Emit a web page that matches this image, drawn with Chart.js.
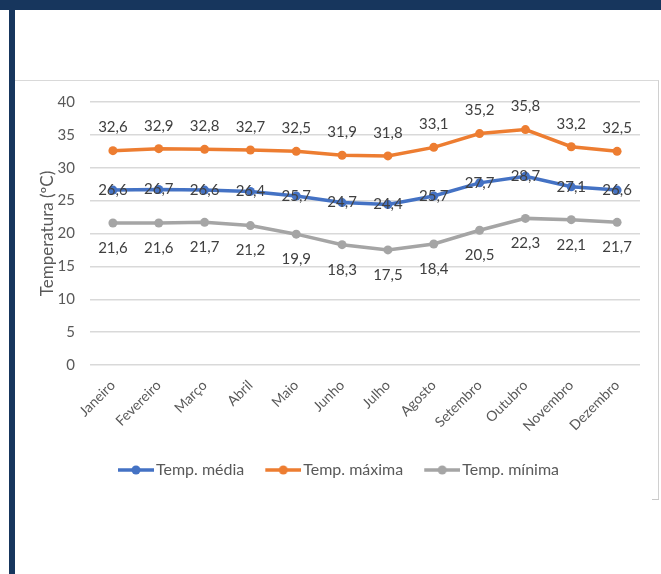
<!DOCTYPE html>
<html>
<head>
<meta charset="utf-8">
<script src="https://cdn.jsdelivr.net/npm/chart.js@4/dist/chart.umd.min.js"></script>
<style>
    body { margin: 0; background: #fff; width: 661px; height: 574px; overflow: hidden; position: relative; }
    #topBar { position: absolute; left: 0; top: 0; width: 661px; height: 10px; background: #17365d; }
    #leftBar { position: absolute; left: 9px; top: 10px; width: 6px; height: 564px; background: #17365d; }
    #frame {
        position: absolute; left: 15px; top: 80px; width: 643px; height: 419px;
        border-top: 1px solid #d9d9d9; border-right: 1px solid #d0d0d0;
    }
    #corner { position: absolute; left: 652px; top: 499px; width: 7px; height: 1px; background: #c8c8c8; }
    canvas { position: absolute; left: 0; top: 0; }
</style>
</head>
<body>
<div id="topBar"></div>
<div id="leftBar"></div>
<div id="frame"><canvas id="tempChart" width="643" height="419"></canvas></div>
<div id="corner"></div>

<script>
/* =========================
   DATA
========================= */

const months = ["Janeiro", "Fevereiro", "Março", "Abril", "Maio", "Junho",
    "Julho", "Agosto", "Setembro", "Outubro", "Novembro", "Dezembro"];

const tempMedia = [26.6, 26.7, 26.6, 26.4, 25.7, 24.7, 24.4, 25.7, 27.7, 28.7, 27.1, 26.6];
const tempMaxima = [32.6, 32.9, 32.8, 32.7, 32.5, 31.9, 31.8, 33.1, 35.2, 35.8, 33.2, 32.5];
const tempMinima = [21.6, 21.6, 21.7, 21.2, 19.9, 18.3, 17.5, 18.4, 20.5, 22.3, 22.1, 21.7];

const seriesNames = ["Temp. média", "Temp. máxima", "Temp. mínima"];
const seriesColors = ["#4472c4", "#ed7d31", "#a5a5a5"];

const textColor = "#595959";
const fontFamily = "Lato, 'Open Sans', sans-serif";

/* =========================
   HELPERS
========================= */

// line + dot swatch for the legend, like Excel
// (image is wider than the legend box so the line runs up to the text)
function legendSwatch(color) {
    const c = document.createElement("canvas");
    c.width = 42;
    c.height = 10;
    const g = c.getContext("2d");
    g.strokeStyle = color;
    g.lineWidth = 3.5;
    g.beginPath();
    g.moveTo(6, 5);
    g.lineTo(42, 5);
    g.stroke();
    g.fillStyle = color;
    g.beginPath();
    g.arc(24, 5, 4.5, 0, Math.PI * 2);
    g.fill();
    return c;
}

// label offset per dataset: 0 = centred on point, negative = above, positive = below
const labelOffsets = [0, -23, 25];

const valueLabels = {
    id: "valueLabels",
    afterDatasetsDraw(chart) {
        const ctx = chart.ctx;
        ctx.save();
        ctx.font = "15px " + fontFamily;
        ctx.fillStyle = "#404040";
        ctx.textAlign = "center";
        ctx.textBaseline = "middle";
        chart.data.datasets.forEach((ds, i) => {
            const meta = chart.getDatasetMeta(i);
            meta.data.forEach((pt, j) => {
                const txt = ds.data[j].toFixed(1).replace(".", ",");
                ctx.fillText(txt, pt.x, pt.y + labelOffsets[i]);
            });
        });
        ctx.restore();
    }
};

/* =========================
   CHART
========================= */

const datasets = [tempMedia, tempMaxima, tempMinima].map((vals, i) => ({
    label: seriesNames[i],
    data: vals,
    borderColor: seriesColors[i],
    backgroundColor: seriesColors[i],
    borderWidth: 3.5,
    pointRadius: 4.5,
    pointBorderWidth: 0,
    tension: 0
}));

new Chart(document.getElementById("tempChart"), {
    type: "line",
    data: { labels: months, datasets },
    plugins: [valueLabels],
    options: {
        responsive: false,
        animation: false,
        layout: { padding: { left: 22, right: 18, top: 21, bottom: 12 } },
        plugins: {
            tooltip: { enabled: false },
            legend: {
                position: "bottom",
                labels: {
                    usePointStyle: true,
                    pointStyleWidth: 30,
                    padding: 21,
                    color: textColor,
                    font: { family: fontFamily, size: 16 },
                    generateLabels(chart) {
                        const items = Chart.defaults.plugins.legend.labels.generateLabels(chart);
                        items.forEach((it, i) => { it.pointStyle = legendSwatch(seriesColors[i]); });
                        return items;
                    }
                }
            }
        },
        scales: {
            x: {
                offset: true,
                grid: { display: false },
                border: { display: false },
                ticks: {
                    color: textColor,
                    font: { family: fontFamily, size: 14 },
                    minRotation: 45,
                    maxRotation: 45,
                    padding: 4
                },
                afterFit(scale) { scale.height = 76; }
            },
            y: {
                min: 0,
                max: 40,
                ticks: {
                    stepSize: 5,
                    color: textColor,
                    font: { family: fontFamily, size: 15 },
                    padding: 3
                },
                grid: {
                    color: "#d9d9d9",
                    lineWidth: 1.5,
                    drawTicks: true,
                    tickLength: 12,
                    tickColor: "rgba(0,0,0,0)"
                },
                border: { display: false },
                title: {
                    display: true,
                    text: "Temperatura (ºC)",
                    color: textColor,
                    font: { family: fontFamily, size: 17 },
                    padding: { top: 0, bottom: 0 }
                },
                afterFit(scale) { scale.width = 53; }
            }
        }
    }
});
</script>
</body>
</html>
